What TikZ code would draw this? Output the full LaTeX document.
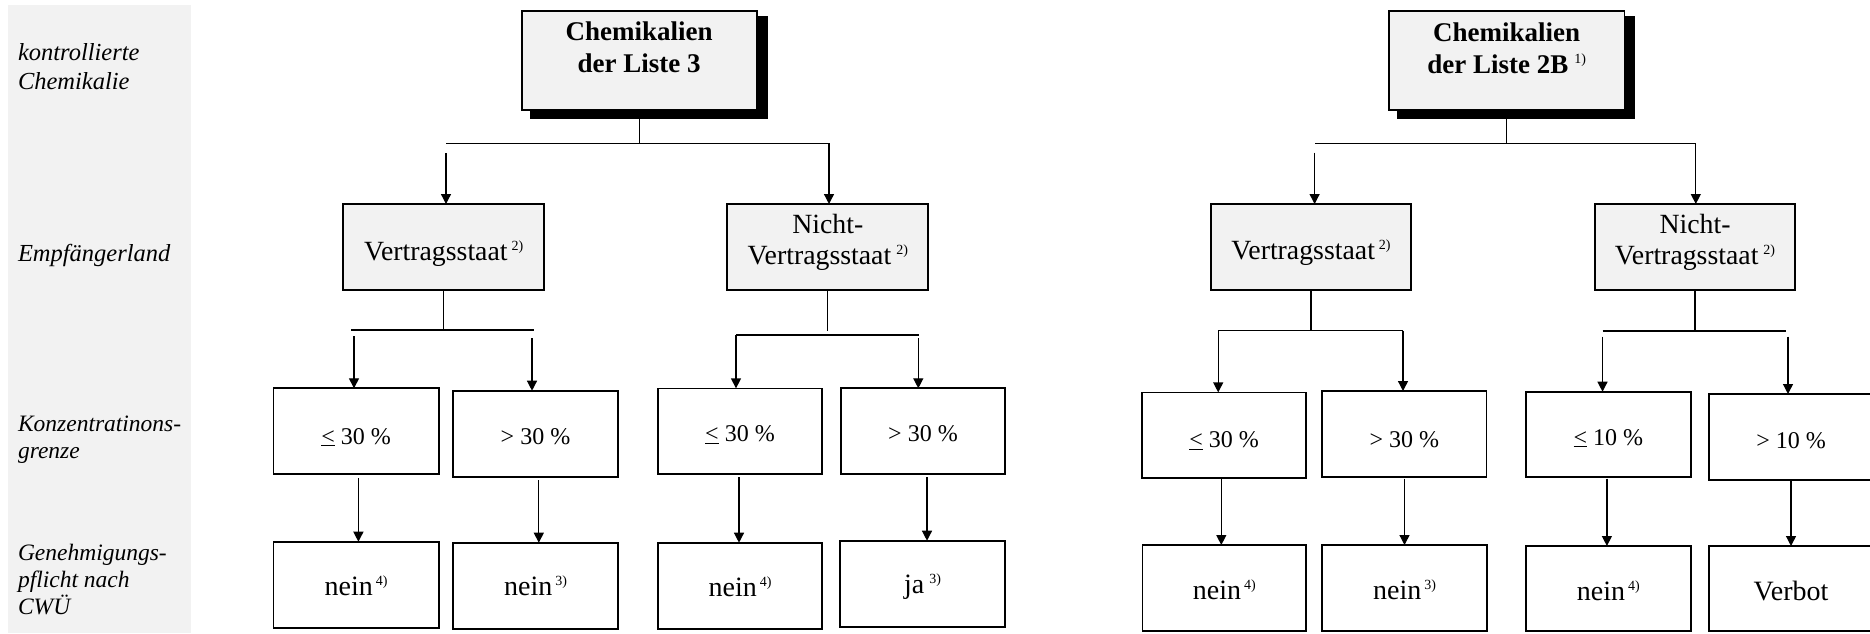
\documentclass[tikz,border=0pt]{standalone}
\usepackage{fontspec}
\setmainfont{Liberation Serif}
\usetikzlibrary{arrows.meta}
\definecolor{panelgray}{HTML}{F2F2F2}
\newcommand\fnmark[2]{\hspace{#1pt}\raisebox{10pt}{\normalfont\fontsize{14}{14}\selectfont #2}}
\begin{document}
\begin{tikzpicture}[x=1pt,y=-1pt,
  box/.style={draw, line width=1.7pt, inner sep=0pt, outer sep=0pt},
  gbox/.style={box, fill=panelgray},
  wbox/.style={box, fill=white},
  txt/.style={anchor=base, inner sep=0pt, outer sep=0pt},
  lab/.style={anchor=base west, inner sep=0pt, outer sep=0pt},
  con/.style={line width=1.3pt},
  arr/.style={line width=1.3pt, -{Triangle[length=10pt,width=10pt]}},
  topfont/.style={font=\bfseries\fontsize{27}{32}\selectfont},
  midfont/.style={font=\fontsize{27.8}{31}\selectfont},
  pctfont/.style={font=\fontsize{24}{28}\selectfont},
  resfont/.style={font=\fontsize{28}{32}\selectfont},
  labfontA/.style={font=\itshape\fontsize{24.5}{29}\selectfont},
  labfontB/.style={font=\itshape\fontsize{23.5}{27}\selectfont}
]
\clip (0,0) rectangle (1870,633);
\fill[white] (0,0) rectangle (1870,633);
% left label panel
\fill[panelgray] (8,4.7) rectangle (190.7,633);
\node[lab, labfontA] (L1) at (18,60) {\begin{tabular}[t]{@{}l@{}}kontrollierte\\Chemikalie\end{tabular}};
\node[lab, labfontA] (L2) at (18,261.7) {Empfängerland};
\node[lab, labfontB] (L3) at (18,431.7) {\begin{tabular}[t]{@{}l@{}}Konzentratinons-\\grenze\end{tabular}};
\node[lab, labfontB] (L4) at (18,560) {\begin{tabular}[t]{@{}l@{}}Genehmigungs-\\pflicht nach\\CWÜ\end{tabular}};

% ---------- top boxes with shadows ----------
\fill[black] (530,15.7) rectangle (767.7,119);
\node[gbox, minimum width=235pt, minimum height=99.3pt] (T1) at (639.2,60.35) {};
\node[txt, topfont] (T1t) at (639.2,40.7) {\begin{tabular}[t]{@{}c@{}}Chemikalien\\der Liste 3\end{tabular}};

\fill[black] (1397.3,15.7) rectangle (1635,119);
\node[gbox, minimum width=235.8pt, minimum height=99.3pt] (T2) at (1506.7,60.35) {};
\node[txt, topfont] (T2t) at (1506.7,41.7) {\begin{tabular}[t]{@{}c@{}}Chemikalien\\der Liste 2B\fnmark{6}{1)}\end{tabular}};

% ---------- level 2 ----------
\node[gbox, minimum width=201.3pt, minimum height=86pt] (A1) at (443.65,247) {};
\node[txt, midfont] (A1t) at (443.65,260) {Vertragsstaat\fnmark{4}{2)}};
\node[gbox, minimum width=201pt, minimum height=86pt] (B1) at (827.8,247) {};
\node[txt, midfont] (B1t) at (827.8,233) {\begin{tabular}[t]{@{}c@{}}Nicht-\\Vertragsstaat\fnmark{5}{2)}\end{tabular}};
\node[gbox, minimum width=200pt, minimum height=86pt] (A2) at (1311,247) {};
\node[txt, midfont] (A2t) at (1311,259.3) {Vertragsstaat\fnmark{4}{2)}};
\node[gbox, minimum width=200pt, minimum height=86pt] (B2) at (1695,247) {};
\node[txt, midfont] (B2t) at (1695,233.3) {\begin{tabular}[t]{@{}c@{}}Nicht-\\Vertragsstaat\fnmark{5}{2)}\end{tabular}};

% ---------- level 3 ----------
\node[wbox, minimum width=165.3pt, minimum height=86pt] (A1a) at (356.15,431.3) {};
\node[txt, pctfont] (A1at) at (356.15,444) {\underline{<} 30 \%};
\node[wbox, minimum width=165pt, minimum height=86pt] (A1b) at (535.5,433.7) {};
\node[txt, pctfont] (A1bt) at (535.5,444) {> 30 \%};
\node[wbox, minimum width=164.6pt, minimum height=85.7pt] (B1a) at (740,431.2) {};
\node[txt, pctfont] (B1at) at (740,441.7) {\underline{<} 30 \%};
\node[wbox, minimum width=164.6pt, minimum height=86pt] (B1b) at (923,431.3) {};
\node[txt, pctfont] (B1bt) at (923,441.7) {> 30 \%};
\node[wbox, minimum width=164.6pt, minimum height=85.7pt] (A2a) at (1224,435.2) {};
\node[txt, pctfont] (A2at) at (1224,447.3) {\underline{<} 30 \%};
\node[wbox, minimum width=164.5pt, minimum height=86pt] (A2b) at (1404.25,434) {};
\node[txt, pctfont] (A2bt) at (1404.25,447.3) {> 30 \%};
\node[wbox, minimum width=164.7pt, minimum height=85.6pt] (B2a) at (1608.3,434.5) {};
\node[txt, pctfont] (B2at) at (1608.3,445) {\underline{<} 10 \%};
\node[wbox, minimum width=165pt, minimum height=86pt] (B2b) at (1791.5,437) {};
\node[txt, pctfont] (B2bt) at (1791,448.3) {> 10 \%};

% ---------- level 4 ----------
\node[wbox, minimum width=165.3pt, minimum height=86.6pt] (A1c) at (356.15,585) {};
\node[txt, resfont] (A1ct) at (356.15,595) {nein\fnmark{3}{4)}};
\node[wbox, minimum width=165pt, minimum height=86.6pt] (A1d) at (535.5,586) {};
\node[txt, resfont] (A1dt) at (535.5,595) {nein\fnmark{3}{3)}};
\node[wbox, minimum width=164.6pt, minimum height=86pt] (B1c) at (740,585.7) {};
\node[txt, resfont] (B1ct) at (740,596) {nein\fnmark{3}{4)}};
\node[wbox, minimum width=165pt, minimum height=86.6pt] (B1d) at (922.5,584) {};
\node[txt, resfont] (B1dt) at (922.5,593.3) {ja\fnmark{5}{3)}};
\node[wbox, minimum width=163.6pt, minimum height=85.7pt] (A2c) at (1224.3,587.85) {};
\node[txt, resfont] (A2ct) at (1224.3,599) {nein\fnmark{3}{4)}};
\node[wbox, minimum width=164.4pt, minimum height=85.7pt] (A2d) at (1404.5,587.85) {};
\node[txt, resfont] (A2dt) at (1404.5,599) {nein\fnmark{3}{3)}};
\node[wbox, minimum width=164.7pt, minimum height=84.7pt] (B2c) at (1608.3,588.35) {};
\node[txt, resfont] (B2ct) at (1608.3,600) {nein\fnmark{3}{4)}};
\node[wbox, minimum width=165pt, minimum height=84.7pt] (B2d) at (1791.5,588.35) {};
\node[txt, resfont] (B2dt) at (1791,600) {Verbot};

% ---------- connectors: Liste 3 ----------
\coordinate (h1L) at (446,143.3);
\coordinate (h1R) at (829,143.3);
\coordinate (a1s) at (446,153);
\draw[con] (T1.south) -- (T1.south |- h1L);
\draw[con] (h1L) -- (h1R);
\draw[arr] (a1s) -- (a1s |- A1.north);
\draw[arr] (h1R) -- (h1R |- B1.north);

\coordinate (h2L) at (351,330);
\coordinate (h2R) at (534,330);
\coordinate (a2s) at (354,336);
\coordinate (a3s) at (532,338);
\draw[con] (A1.south) -- (A1.south |- h2L);
\draw[con] (h2L) -- (h2R);
\draw[arr] (a2s) -- (a2s |- A1a.north);
\draw[arr] (a3s) -- (a3s |- A1b.north);

\coordinate (h3L) at (736,335);
\coordinate (h3R) at (919,335);
\coordinate (h3s) at (829,331);
\coordinate (a5s) at (918.3,338);
\draw[con] (B1.south) -- (B1.south |- h3s);
\draw[con] (h3L) -- (h3R);
\draw[arr] (h3L) -- (h3L |- B1a.north);
\draw[arr] (a5s) -- (a5s |- B1b.north);

\coordinate (d1) at (358.4,478);
\coordinate (d2) at (538.8,480);
\coordinate (d3) at (739,477);
\coordinate (d4) at (927,477);
\draw[arr] (d1) -- (d1 |- A1c.north);
\draw[arr] (d2) -- (d2 |- A1d.north);
\draw[arr] (d3) -- (d3 |- B1c.north);
\draw[arr] (d4) -- (d4 |- B1d.north);

% ---------- connectors: Liste 2B ----------
\coordinate (g1L) at (1315,143.3);
\coordinate (g1R) at (1695.8,143.3);
\coordinate (b1s) at (1314.6,152.7);
\draw[con] (T2.south) -- (T2.south |- g1L);
\draw[con] (g1L) -- (g1R);
\draw[arr] (b1s) -- (b1s |- A2.north);
\draw[arr] (g1R) -- (g1R |- B2.north);

\coordinate (g2L) at (1218.2,330.7);
\coordinate (g2R) at (1403,330.7);
\draw[con] (A2.south) -- (A2.south |- g2L);
\draw[con] (g2L) -- (g2R);
\draw[arr] (g2L) -- (g2L |- A2a.north);
\draw[arr] (g2R) -- (g2R |- A2b.north);

\coordinate (g3L) at (1602.5,331);
\coordinate (g3R) at (1786,331);
\coordinate (b3s) at (1602.5,336.7);
\coordinate (b4s) at (1788,336.7);
\draw[con] (B2.south) -- (B2.south |- g3L);
\draw[con] (g3L) -- (g3R);
\draw[arr] (b3s) -- (b3s |- B2a.north);
\draw[arr] (b4s) -- (b4s |- B2b.north);

\coordinate (e1) at (1221.3,478.7);
\coordinate (e2) at (1404.5,478.7);
\coordinate (e3) at (1606.9,478.7);
\coordinate (e4) at (1791,481);
\draw[arr] (e1) -- (e1 |- A2c.north);
\draw[arr] (e2) -- (e2 |- A2d.north);
\draw[arr] (e3) -- (e3 |- B2c.north);
\draw[arr] (e4) -- (e4 |- B2d.north);
\end{tikzpicture}
\end{document}
